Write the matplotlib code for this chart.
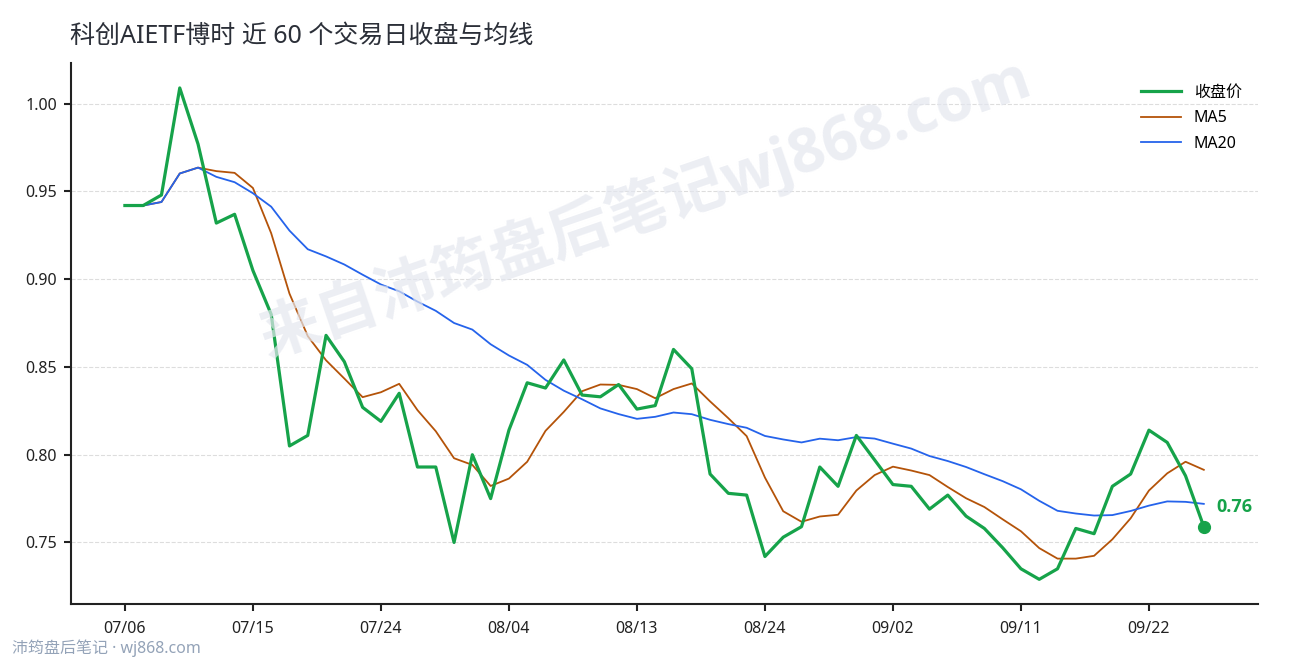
import matplotlib
matplotlib.use("Agg")
import matplotlib.pyplot as plt
import numpy as np
import pandas as pd

plt.rcParams['font.family'] = ['Noto Sans', 'Noto Sans CJK SC', 'DejaVu Sans']
BOLD_FAMILY = ['Open Sans', 'Noto Sans CJK SC', 'DejaVu Sans']

# close prices for the last 60 trading days
close = [0.942, 0.942, 0.948, 1.009, 0.977, 0.932, 0.937, 0.905, 0.880, 0.805,
         0.811, 0.868, 0.853, 0.827, 0.819, 0.835, 0.793, 0.793, 0.750, 0.800,
         0.775, 0.814, 0.841, 0.838, 0.854, 0.834, 0.833, 0.840, 0.826, 0.828,
         0.860, 0.849, 0.789, 0.778, 0.777, 0.742, 0.753, 0.759, 0.793, 0.782,
         0.811, 0.797, 0.783, 0.782, 0.769, 0.777, 0.765, 0.758, 0.747, 0.735,
         0.729, 0.735, 0.758, 0.755, 0.782, 0.789, 0.814, 0.807, 0.788, 0.759]
tick_labels = ['07/06', '07/15', '07/24', '08/04', '08/13', '08/24', '09/02', '09/11', '09/22']
tick_step = 7

s = pd.Series(close)
ma5 = s.rolling(5, min_periods=1).mean()
ma20 = s.rolling(20, min_periods=1).mean()
x = np.arange(len(close))

fig = plt.figure(figsize=(12.9, 6.6), dpi=100)
ax = fig.add_axes([0.055, 0.085, 0.92, 0.819])

ax.plot(x, close, color='#16a34a', lw=2.3, label='收盘价', zorder=4)
ax.plot(x, ma5, color='#b45309', lw=1.3, label='MA5', zorder=3)
ax.plot(x, ma20, color='#2563eb', lw=1.3, label='MA20', zorder=3)

# last close marker + label
ax.plot(x[-1], close[-1], 'o', color='#16a34a', ms=8.5, zorder=5)
ax.annotate(f'{close[-1]:.2f}', (x[-1], close[-1]), xytext=(9, 14),
            textcoords='offset points', color='#16a34a', fontsize=13,
            fontweight='bold', family=BOLD_FAMILY, va='center', ha='left')

ax.set_xticks(np.arange(len(tick_labels)) * tick_step)
ax.set_xticklabels(tick_labels)
ax.yaxis.set_major_formatter(matplotlib.ticker.FormatStrFormatter('%.2f'))
ax.set_yticks([0.75, 0.80, 0.85, 0.90, 0.95, 1.00])
ax.tick_params(labelsize=11.5, colors='#222222', length=5, width=1.5)
ax.tick_params(axis='x', pad=7)
ax.tick_params(axis='y', pad=5)

ax.grid(axis='y', ls='--', color='#dddddd', lw=0.8)
for side in ['top', 'right']:
    ax.spines[side].set_visible(False)
for side in ['left', 'bottom']:
    ax.spines[side].set_color('#222222')
    ax.spines[side].set_linewidth(1.5)

leg = ax.legend(loc='upper right', bbox_to_anchor=(1.0, 0.99), frameon=False,
                fontsize=11.5, handlelength=2.5, borderaxespad=0.6, labelspacing=0.6)

# watermark
fig.text(0.5, 0.685, '来自沛筠盘后笔记wj868.com', fontsize=44, fontweight='bold',
         family=BOLD_FAMILY, color='#e4e7ef', alpha=0.7, rotation=19,
         ha='center', va='center', zorder=0)

fig.text(0.054, 0.945, '科创AIETF博时 近 60 个交易日收盘与均线', fontsize=18,
         color='#2b2f38', ha='left', va='center')
fig.text(0.009, 0.018, '沛筠盘后笔记 · wj868.com', fontsize=11.5,
         color='#94a3b8', ha='left', va='center')

fig.savefig('out.png', dpi=100)
